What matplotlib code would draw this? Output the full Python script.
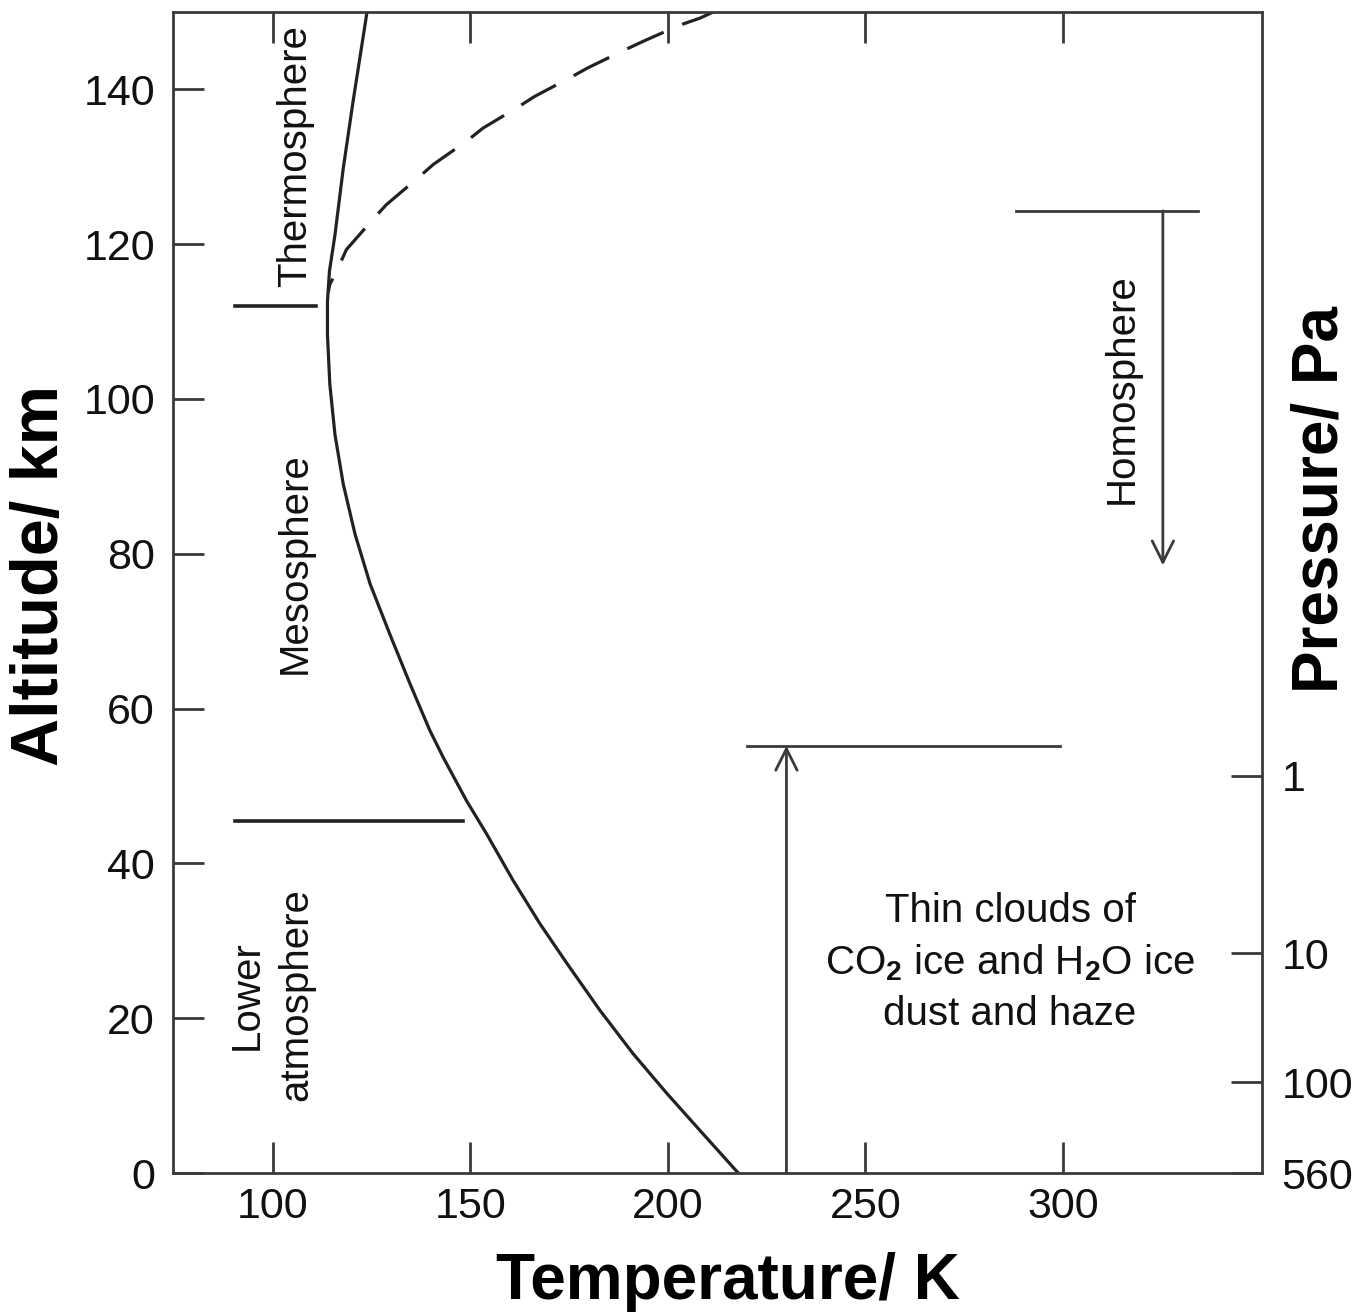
import matplotlib

matplotlib.use("Agg")

import matplotlib.pyplot as plt

plt.rcParams["font.family"] = ["Liberation Sans", "DejaVu Sans"]
plt.rcParams["mathtext.fontset"] = "custom"
plt.rcParams["mathtext.rm"] = "Liberation Sans"
plt.rcParams["mathtext.bf"] = "Liberation Sans:bold"

# temperature profile (K) vs altitude (km)
profile_temp = [217.8, 208.1, 199.7, 191.2, 182.8, 174.4, 167.6, 160.8, 154.1,
                149.0, 143.1, 139.7, 134.7, 129.6, 124.6, 120.8, 117.8, 115.7,
                114.4, 113.8, 113.8, 114.3, 115.7, 117.8, 120.3, 123.3, 123.8]
profile_alt = [0.0, 5.5, 10.3, 15.4, 21.0, 27.1, 32.2, 37.8, 43.8,
               48.1, 53.7, 57.2, 63.2, 69.6, 76.1, 82.5, 89.0, 95.4,
               101.9, 108.3, 112.6, 116.5, 121.2, 129.8, 138.5, 148.3, 150.0]

# alternative (hot) thermosphere profile, dashed
dashed_temp = [114.0, 114.4, 116.1, 118.6, 125.3, 128.7, 136.8, 140.6, 149.0,
               153.2, 161.7, 166.3, 175.2, 179.8, 189.1, 193.7, 203.0, 208.1,
               211.5]
dashed_alt = [113.8, 114.8, 116.5, 119.3, 123.2, 125.1, 128.6, 130.3, 133.3,
              135.0, 137.6, 139.1, 141.5, 142.8, 145.1, 146.2, 148.3, 149.2,
              150.0]

# pressure scale on the right axis
pressure_alt = [51.35, 28.4, 11.74, 0.0]
pressure_labels = ["1", "10", "100", "560"]

# layer boundaries: (T start, T end, altitude)
thermo_bound = (90.5, 110.8, 112.0)
lower_bound = (90.5, 148.1, 45.5)
cloud_top = (220.0, 299.2, 55.2)
homo_top = (288.0, 334.2, 124.3)
cloud_arrow_t = 230.0
homo_arrow_t = 325.3
homo_arrow_end = 78.5

line_col = "#222222"
spine_col = "#3a3a3a"


def main() -> None:
    fig = plt.figure(figsize=(13.57, 13.14), dpi=100)
    ax = fig.add_axes([0.1275, 0.1073, 0.8025, 0.8836])

    ax.plot(profile_temp, profile_alt, color=line_col, lw=2.3,
            solid_joinstyle="round")
    ax.plot(dashed_temp, dashed_alt, color=line_col, lw=2.3,
            linestyle=(8, (12.5, 6.3)), dash_capstyle="butt")

    for t0, t1, alt in (thermo_bound, lower_bound):
        ax.plot([t0, t1], [alt, alt], color=line_col, lw=2.6)
    for t0, t1, alt in (cloud_top, homo_top):
        ax.plot([t0, t1], [alt, alt], color=spine_col, lw=2.0)

    arrow = dict(arrowstyle="->,head_length=0.7,head_width=0.35",
                 mutation_scale=22, lw=2.0, color=spine_col,
                 shrinkA=0, shrinkB=0)
    ax.annotate("", xy=(cloud_arrow_t, cloud_top[2]), xytext=(cloud_arrow_t, 0.0),
                arrowprops=arrow)
    ax.annotate("", xy=(homo_arrow_t, homo_arrow_end), xytext=(homo_arrow_t, homo_top[2]),
                arrowprops=arrow)

    txt = dict(fontsize=29, color="#111111", rotation=90)
    ax.text(105.6, 114.5, "Thermosphere", ha="center", va="bottom", **txt)
    ax.text(105.6, 78.8, "Mesosphere", ha="center", va="center", **txt)
    ax.text(99.6, 23.0, "Lower\natmosphere", ha="center", va="center",
            multialignment="center", linespacing=1.4, **txt)
    ax.text(315.0, 101.4, "Homosphere", ha="center", va="center", **txt)
    ax.text(286.6, 27.2,
            "Thin clouds of\nCO$_\\mathbf{2}$ ice and H$_\\mathbf{2}$O ice\ndust and haze",
            ha="center", va="center", fontsize=29, color="#111111",
            linespacing=1.4)

    ax.set_xlim(74.7, 350.4)
    ax.set_ylim(0, 150)
    ax.set_xticks([100, 150, 200, 250, 300])
    ax.set_yticks(range(0, 141, 20))
    ax.tick_params(direction="in", length=22, width=2.0, color=spine_col,
                   labelsize=31, top=True, right=False, labelcolor="#111111")
    ax.tick_params(axis="x", pad=10)
    ax.tick_params(axis="y", pad=13)
    for sp in ax.spines.values():
        sp.set_color(spine_col)
        sp.set_linewidth(2.0)

    ax2 = ax.twinx()
    ax2.set_ylim(ax.get_ylim())
    ax2.set_yticks(pressure_alt)
    ax2.set_yticklabels(pressure_labels)
    ax2.tick_params(direction="in", length=22, width=2.0, color=spine_col,
                    labelsize=31, pad=14, labelcolor="#111111")
    for sp in ax2.spines.values():
        sp.set_visible(False)

    ax.set_xlabel("Temperature/ K", fontsize=46, fontweight="bold")
    ax.xaxis.set_label_coords(0.51, -0.068)
    ax.set_ylabel("Altitude/ km", fontsize=48, fontweight="bold")
    ax.yaxis.set_label_coords(-0.093, 0.515)
    ax2.set_ylabel("Pressure/ Pa", fontsize=46, fontweight="bold")
    ax2.yaxis.set_label_coords(1.026, 0.58)

    fig.savefig("out.png", dpi=100)
    plt.close(fig)


if __name__ == "__main__":
    main()
